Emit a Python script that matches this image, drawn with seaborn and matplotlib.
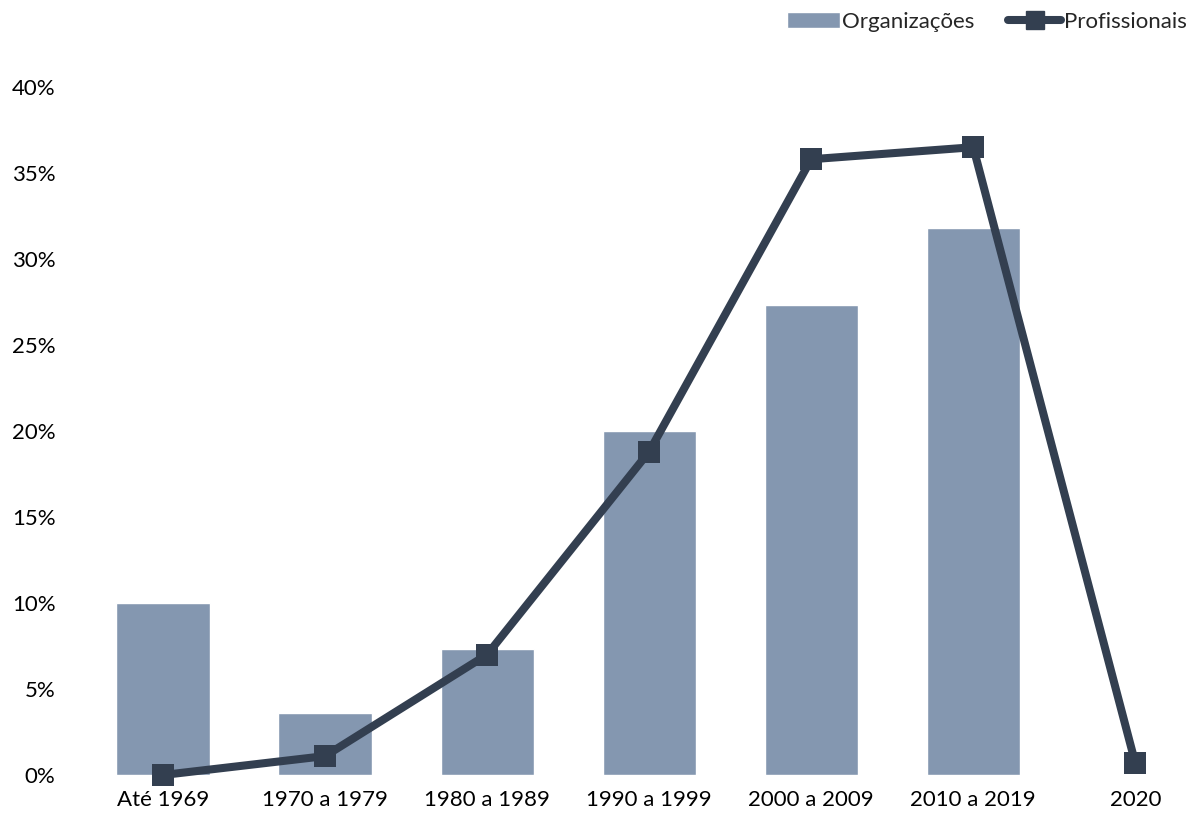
"""Organizações vs Profissionais por década de fundação."""

import matplotlib.pyplot as plt
import pandas as pd
import seaborn as sns
from matplotlib.lines import Line2D
from matplotlib.patches import Patch

periods = ["Até 1969", "1970 a 1979", "1980 a 1989", "1990 a 1999",
           "2000 a 2009", "2010 a 2019", "2020"]
organizacoes = [10.0, 3.6, 7.3, 20.0, 27.3, 31.8, 0.0]
profissionais = [0.0, 1.1, 7.0, 18.8, 35.8, 36.5, 0.7]

BAR_COLOR = "#8497b0"
LINE_COLOR = "#333f50"

df = pd.DataFrame({
    "period": periods,
    "pos": range(len(periods)),
    "Organizações": organizacoes,
    "Profissionais": profissionais,
})

sns.set_style("white")
plt.rcParams["font.family"] = ["Lato", "DejaVu Sans"]

fig = plt.figure(figsize=(11.97, 8.22), dpi=100)
ax = fig.add_axes([82 / 1197, 47 / 822, 1110 / 1197, 688 / 822])

sns.barplot(df, x="period", y="Organizações", color=BAR_COLOR, width=0.575,
            saturation=1, ax=ax)
sns.lineplot(df, x="pos", y="Profissionais", color=LINE_COLOR, linewidth=5.8,
             marker="s", markersize=16, markeredgewidth=0, clip_on=False, ax=ax)

ax.set_xlim(-0.5, 6.35)
ax.set_ylim(0, 40)
ax.set_yticks(range(0, 41, 5))
ax.yaxis.set_major_formatter("{x:.0f}%")
ax.set_xticks(df["pos"])
ax.set_xticklabels(periods)
ax.set_xlabel("")
ax.set_ylabel("")
ax.tick_params(axis="both", labelsize=16, length=0, colors="black")
ax.tick_params(axis="y", pad=19)
ax.tick_params(axis="x", pad=11)
sns.despine(ax=ax, left=True, bottom=True)

handles = [
    Patch(facecolor=BAR_COLOR, label="Organizações"),
    Line2D([0], [0], color=LINE_COLOR, linewidth=5.8, marker="s",
           markersize=13, label="Profissionais"),
]
fig.legend(handles=handles, loc="upper right", bbox_to_anchor=(1.008, 1.01),
           ncol=2, frameon=False, fontsize=16, handlelength=2.4,
           handletextpad=0.1, columnspacing=1.5)

fig.savefig("out.png", dpi=100)
